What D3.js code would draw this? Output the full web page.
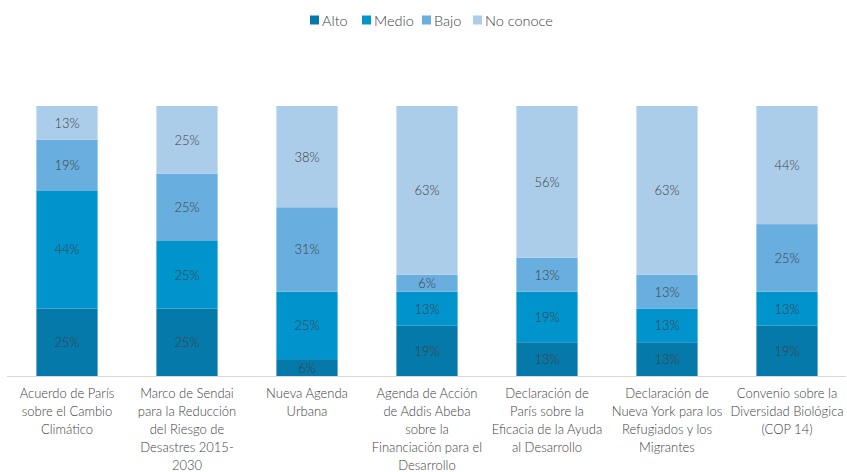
<!DOCTYPE html>
<html>
<head>
<meta charset="utf-8">
<script src="https://cdn.jsdelivr.net/npm/d3@7"></script>
<style>
  body { margin: 0; background: #fff; }
  text { font-family: Lato, "Open Sans", sans-serif; font-weight: 300; fill: #404040; }
</style>
</head>
<body>
<div id="chart"></div>
<script>
// categories, already split into the lines shown under each bar
var categories = [
  ["Acuerdo de París", "sobre el Cambio", "Climático"],
  ["Marco de Sendai", "para la Reducción", "del Riesgo de", "Desastres 2015-", "2030"],
  ["Nueva Agenda", "Urbana"],
  ["Agenda de Acción", "de Addis Abeba", "sobre la", "Financiación para el", "Desarrollo"],
  ["Declaración de", "París sobre la", "Eficacia de la Ayuda", "al Desarrollo"],
  ["Declaración de", "Nueva York para los", "Refugiados y los", "Migrantes"],
  ["Convenio sobre la", "Diversidad Biológica", "(COP 14)"]
];
var seriesNames = ["Alto", "Medio", "Bajo", "No conoce"];
var seriesColors = ["#0579a9", "#0093cc", "#68aede", "#abcdea"];

// percentages per series (same order as categories)
var alto     = [25,    25, 6.25,  18.75, 12.5,  12.5, 18.75];
var medio    = [43.75, 25, 25,    12.5,  18.75, 12.5, 12.5];
var bajo     = [18.75, 25, 31.25, 6.25,  12.5,  12.5, 25];
var noConoce = [12.5,  25, 37.5,  62.5,  56.25, 62.5, 43.75];

var width = 847, height = 472;
var margin = {top: 106, right: 0, bottom: 96, left: 7};

var rows = categories.map(function(c, i) {
  return {i: i, "Alto": alto[i], "Medio": medio[i], "Bajo": bajo[i], "No conoce": noConoce[i]};
});

var svg = d3.select("#chart").append("svg")
  .attr("width", width)
  .attr("height", height);

var x = d3.scaleBand()
  .domain(d3.range(categories.length))
  .range([margin.left, width - margin.right])
  .paddingInner(0.49)
  .paddingOuter(0.245);

var y = d3.scaleLinear()
  .domain([0, 100])
  .range([height - margin.bottom, margin.top]);

var color = d3.scaleOrdinal().domain(seriesNames).range(seriesColors);

var stacked = d3.stack().keys(seriesNames)(rows);

var layers = svg.selectAll("g.layer")
  .data(stacked)
  .enter().append("g")
    .attr("class", "layer")
    .attr("fill", function(d) { return color(d.key); });

layers.selectAll("rect")
  .data(function(d) { return d; })
  .enter().append("rect")
    .attr("x", function(d) { return x(d.data.i); })
    .attr("y", function(d) { return y(d[1]); })
    .attr("width", x.bandwidth())
    .attr("height", function(d) { return y(d[0]) - y(d[1]); });

// value labels
layers.selectAll("text")
  .data(function(d) { return d; })
  .enter().append("text")
    .attr("x", function(d) { return x(d.data.i) + x.bandwidth() / 2; })
    .attr("y", function(d) { return (y(d[0]) + y(d[1])) / 2; })
    .attr("text-anchor", "middle")
    .attr("dominant-baseline", "central")
    .style("font-size", "13px")
    .text(function(d) { return Math.round(d[1] - d[0]) + "%"; });

// x axis line
svg.append("line")
  .attr("x1", margin.left).attr("x2", width - 1)
  .attr("y1", y(0) + 0.5).attr("y2", y(0) + 0.5)
  .attr("stroke", "#d9d9d9")
  .attr("stroke-width", 1);

// category labels
var labels = svg.selectAll("text.cat")
  .data(categories)
  .enter().append("text")
    .attr("class", "cat")
    .attr("text-anchor", "middle")
    .style("font-size", "13px");

labels.selectAll("tspan")
  .data(function(d, i) { return d.map(function(line) { return {line: line, i: i}; }); })
  .enter().append("tspan")
    .attr("x", function(d) { return x(d.i) + x.bandwidth() / 2; })
    .attr("y", function(d, j) { return y(0) + 22 + j * 18; })
    .text(function(d) { return d.line; });

// legend
var legendX = [310, 362, 422, 473];
var legend = svg.selectAll("g.legend")
  .data(seriesNames)
  .enter().append("g")
    .attr("class", "legend")
    .attr("transform", function(d, i) { return "translate(" + legendX[i] + ",20)"; });

legend.append("rect")
  .attr("x", 0).attr("y", -4.5)
  .attr("width", 9).attr("height", 9)
  .attr("fill", function(d) { return color(d); });

legend.append("text")
  .attr("x", 12)
  .attr("y", 0)
  .attr("dominant-baseline", "central")
  .style("font-size", "14.5px")
  .text(function(d) { return d; });
</script>
</body>
</html>
